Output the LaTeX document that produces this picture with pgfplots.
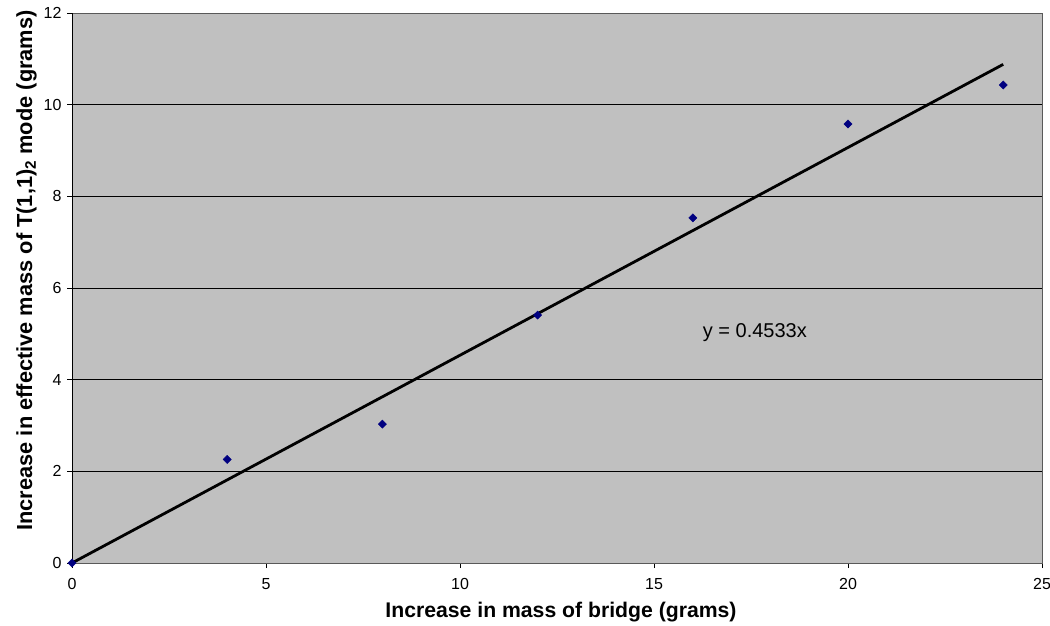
\documentclass[border=0pt]{standalone}
\usepackage{pgfplots}
\pgfplotsset{compat=1.18}
\usepackage{fontspec}
\setmainfont{Liberation Sans}
\definecolor{plotbg}{HTML}{C0C0C0}
\definecolor{navy}{HTML}{000080}
\begin{document}
\begin{tikzpicture}
\useasboundingbox (-72bp,-63bp) rectangle (978bp,563bp);
\begin{axis}[
  scale only axis,
  width=970bp, height=550bp,
  xmin=0, xmax=25, ymin=0, ymax=12,
  xtick={0,5,10,15,20,25},
  ytick={0,2,4,6,8,10,12},
  xtick pos=bottom, ytick pos=left,
  axis background/.style={fill=plotbg},
  axis line style={draw=gray!70!black, line width=0.8bp},
  ymajorgrids,
  grid style={black, line width=0.7bp},
  tick align=outside,
  major tick length=5bp,
  tick style={black, line width=0.7bp},
  ticklabel style={font=\fontsize{16bp}{18bp}\selectfont},
  /pgf/number format/assume math mode=true,
  xticklabel style={yshift=-7bp},
  yticklabel style={xshift=-2bp},
  xlabel={\fontsize{21.2bp}{24bp}\selectfont\bfseries Increase in mass of bridge (grams)},
  ylabel={\fontsize{21.8bp}{24bp}\selectfont\bfseries Increase in effective mass of T(1,1)\textsubscript{2} mode (grams)},
  xlabel style={yshift=-5bp, xshift=4bp},
  ylabel style={at={(ticklabel cs:0.532)}},
  clip=false,
]
\addplot[black, line width=2.8bp] coordinates {(0,0) (24,10.879)};
\addplot[only marks, mark=square*, mark options={rotate=45}, mark size=2.9bp, color=navy] coordinates {
(0,0) (4,2.26) (8,3.03) (12,5.41) (16,7.53) (20,9.58) (24,10.43)};
\node[font=\fontsize{20bp}{23bp}\selectfont] at (axis cs:17.6,5.02) {y = 0.4533x};
\draw[black, line width=0.8bp] (axis cs:0,0) -- (axis cs:0,12);
\end{axis}
\end{tikzpicture}
\end{document}
